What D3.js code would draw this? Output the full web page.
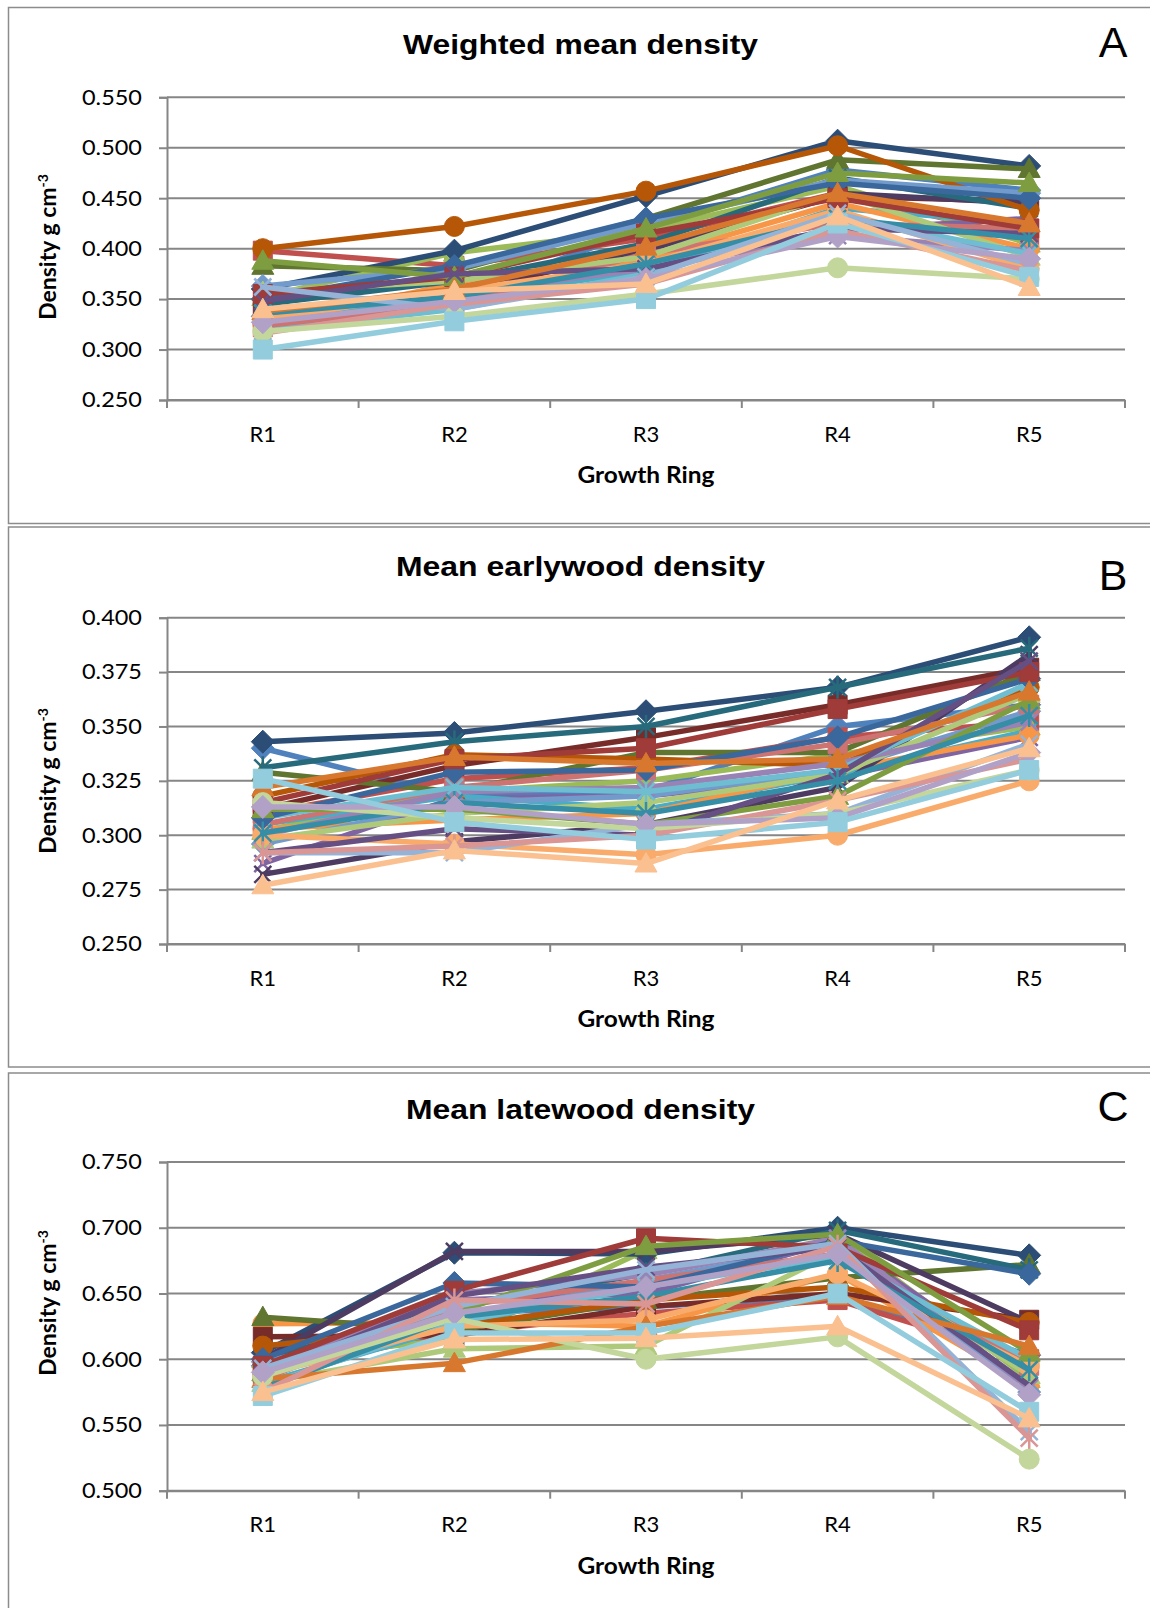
<!DOCTYPE html>
<html><head><meta charset="utf-8">
<script src="https://cdn.jsdelivr.net/npm/d3@7"></script>
<style>body{margin:0;background:#fff;overflow:hidden} svg{display:block}</style>
</head><body><svg id="c" width="1150" height="1608"></svg>
<script>
// ---------- DATA ----------
const rings = ["R1", "R2", "R3", "R4", "R5"];

const seriesColors = [
  "#4F81BD", "#C0504D", "#9BBB59", "#8064A2", "#4BACC6", "#F79646",
  "#2C4D75", "#772C2A", "#5F7530", "#4D3B62", "#276A7C", "#B65708",
  "#729ACA", "#CD7371", "#AFC97A", "#9983B5", "#6FBDD1", "#F9AB6B",
  "#3A679C", "#9F3B38", "#7E9D40", "#664F83", "#358EA6", "#D8782E",
  "#95B3D7", "#D99694", "#C3D69B", "#B2A1C7", "#93CDDD", "#FAC090"
];
const seriesMarkers = [
  "diamond", "square", "triangle", "x", "star", "circle",
  "diamond", "square", "triangle", "x", "star", "circle",
  "diamond", "square", "triangle", "x", "star", "circle",
  "diamond", "square", "triangle", "x", "star", "triangle",
  "x", "star", "circle", "diamond", "square", "triangle"
];

// Panel A – weighted mean density (g cm-3), one row per tree, R1..R5
const weightedMean = [
  [0.333, 0.352, 0.420, 0.478, 0.458],
  [0.398, 0.383, 0.410, 0.455, 0.410],
  [0.352, 0.396, 0.418, 0.462, 0.405],
  [0.345, 0.372, 0.388, 0.418, 0.430],
  [0.328, 0.350, 0.378, 0.440, 0.425],
  [0.325, 0.365, 0.390, 0.445, 0.400],
  [0.360, 0.398, 0.452, 0.507, 0.482],
  [0.340, 0.355, 0.400, 0.452, 0.447],
  [0.383, 0.378, 0.430, 0.488, 0.479],
  [0.330, 0.360, 0.398, 0.455, 0.445],
  [0.345, 0.368, 0.405, 0.470, 0.440],
  [0.400, 0.422, 0.457, 0.502, 0.438],
  [0.363, 0.380, 0.425, 0.468, 0.455],
  [0.322, 0.345, 0.395, 0.425, 0.420],
  [0.357, 0.368, 0.392, 0.455, 0.392],
  [0.336, 0.355, 0.380, 0.413, 0.398],
  [0.318, 0.340, 0.375, 0.432, 0.395],
  [0.330, 0.358, 0.385, 0.438, 0.380],
  [0.350, 0.383, 0.430, 0.465, 0.450],
  [0.355, 0.372, 0.415, 0.450, 0.420],
  [0.388, 0.372, 0.420, 0.475, 0.465],
  [0.348, 0.375, 0.380, 0.420, 0.415],
  [0.336, 0.352, 0.385, 0.430, 0.410],
  [0.338, 0.360, 0.402, 0.455, 0.425],
  [0.362, 0.340, 0.372, 0.435, 0.385],
  [0.316, 0.345, 0.365, 0.418, 0.378],
  [0.318, 0.333, 0.355, 0.381, 0.370],
  [0.327, 0.348, 0.370, 0.412, 0.390],
  [0.300, 0.328, 0.350, 0.425, 0.372],
  [0.340, 0.358, 0.365, 0.432, 0.362]
];

// Panel B – mean earlywood density
const earlywood = [
  [0.340, 0.318, 0.320, 0.350, 0.360],
  [0.310, 0.326, 0.331, 0.345, 0.352],
  [0.302, 0.320, 0.325, 0.337, 0.350],
  [0.287, 0.317, 0.318, 0.327, 0.345],
  [0.305, 0.318, 0.312, 0.328, 0.348],
  [0.303, 0.307, 0.310, 0.330, 0.346],
  [0.343, 0.347, 0.357, 0.368, 0.391],
  [0.312, 0.332, 0.345, 0.360, 0.377],
  [0.329, 0.320, 0.338, 0.338, 0.375],
  [0.282, 0.297, 0.305, 0.322, 0.383],
  [0.331, 0.343, 0.350, 0.368, 0.386],
  [0.318, 0.337, 0.335, 0.332, 0.368],
  [0.296, 0.315, 0.318, 0.330, 0.357],
  [0.305, 0.322, 0.330, 0.342, 0.360],
  [0.298, 0.310, 0.315, 0.328, 0.365],
  [0.300, 0.320, 0.322, 0.333, 0.352],
  [0.308, 0.322, 0.320, 0.330, 0.370],
  [0.300, 0.296, 0.291, 0.300, 0.325],
  [0.308, 0.329, 0.330, 0.345, 0.372],
  [0.315, 0.335, 0.340, 0.358, 0.375],
  [0.312, 0.312, 0.305, 0.318, 0.362],
  [0.292, 0.303, 0.300, 0.328, 0.380],
  [0.301, 0.315, 0.310, 0.325, 0.355],
  [0.322, 0.336, 0.333, 0.335, 0.366],
  [0.292, 0.292, 0.305, 0.310, 0.342],
  [0.292, 0.295, 0.300, 0.316, 0.335],
  [0.315, 0.308, 0.303, 0.310, 0.330],
  [0.313, 0.313, 0.305, 0.308, 0.338],
  [0.326, 0.306, 0.298, 0.306, 0.330],
  [0.277, 0.293, 0.287, 0.316, 0.340]
];

// Panel C – mean latewood density
const latewood = [
  [0.595, 0.635, 0.640, 0.648, 0.603],
  [0.590, 0.620, 0.635, 0.645, 0.600],
  [0.600, 0.615, 0.683, 0.694, 0.585],
  [0.590, 0.645, 0.650, 0.690, 0.590],
  [0.582, 0.625, 0.660, 0.680, 0.590],
  [0.627, 0.628, 0.625, 0.665, 0.580],
  [0.605, 0.681, 0.680, 0.700, 0.679],
  [0.617, 0.618, 0.640, 0.650, 0.630],
  [0.632, 0.622, 0.645, 0.662, 0.672],
  [0.600, 0.682, 0.682, 0.695, 0.628],
  [0.600, 0.640, 0.665, 0.698, 0.668],
  [0.610, 0.625, 0.645, 0.655, 0.628],
  [0.598, 0.630, 0.660, 0.688, 0.575],
  [0.585, 0.640, 0.660, 0.680, 0.595],
  [0.582, 0.608, 0.610, 0.682, 0.588],
  [0.592, 0.650, 0.664, 0.692, 0.578],
  [0.580, 0.628, 0.655, 0.678, 0.600],
  [0.588, 0.625, 0.630, 0.665, 0.595],
  [0.600, 0.658, 0.655, 0.690, 0.665],
  [0.595, 0.652, 0.692, 0.685, 0.622],
  [0.590, 0.635, 0.686, 0.695, 0.605],
  [0.588, 0.648, 0.670, 0.685, 0.580],
  [0.578, 0.632, 0.648, 0.675, 0.592],
  [0.585, 0.597, 0.625, 0.648, 0.610],
  [0.593, 0.640, 0.668, 0.688, 0.545],
  [0.575, 0.645, 0.642, 0.686, 0.540],
  [0.587, 0.631, 0.600, 0.617, 0.524],
  [0.590, 0.635, 0.655, 0.680, 0.573],
  [0.572, 0.620, 0.620, 0.650, 0.560],
  [0.575, 0.615, 0.616, 0.625, 0.555]
];

const ticksA = [0.250, 0.300, 0.350, 0.400, 0.450, 0.500, 0.550];
const ticksB = [0.250, 0.275, 0.300, 0.325, 0.350, 0.375, 0.400];
const ticksC = [0.500, 0.550, 0.600, 0.650, 0.700, 0.750];

const titles = ["Weighted mean density", "Mean earlywood density", "Mean latewood density"];
const panelLetters = ["A", "B", "C"];
const xTitle = "Growth Ring";

// ---------- LAYOUT ----------
const layouts = [
  {top: 7.5, bottom: 523.5, plotTop: 97.3, plotBottom: 400, titleY: 54.3, titleW: 355, letterY: 56.7, yTitleC: 247},
  {top: 527, bottom: 1067, plotTop: 617.7, plotBottom: 944, titleY: 575.6, titleW: 369, letterY: 589.7, yTitleC: 781},
  {top: 1073, bottom: 1620, plotTop: 1162, plotBottom: 1490.7, titleY: 1119.4, titleW: 349, letterY: 1121, yTitleC: 1303}
];
const panels = [
  {data: weightedMean, ticks: ticksA},
  {data: earlywood, ticks: ticksB},
  {data: latewood, ticks: ticksC}
];

const svg = d3.select("#c");
const plotL = 167, plotR = 1125;
const gridColor = "#868686";
const fmt = d3.format(".3f");

function markerPath(type) {
  switch (type) {
    case "diamond": return "M0,-11.5L11.5,0L0,11.5L-11.5,0Z";
    case "square": return "M-9.5,-9.5H9.5V9.5H-9.5Z";
    case "triangle": return "M0,-11L11,8.5L-11,8.5Z";
    case "circle": return "M10,0A10,10 0 1,1 -10,0A10,10 0 1,1 10,0Z";
    case "x": return "M-8.5,-8.5L8.5,8.5M-8.5,8.5L8.5,-8.5";
    case "star": return "M-8.5,-8.5L8.5,8.5M-8.5,8.5L8.5,-8.5M0,-11.5L0,11.5";
  }
}

panels.forEach((p, k) => {
  const L = layouts[k];
  const g = svg.append("g");

  // panel border
  g.append("rect")
    .attr("x", 8.5).attr("y", L.top)
    .attr("width", 1160).attr("height", L.bottom - L.top)
    .attr("fill", "none").attr("stroke", "#8c8c8c").attr("stroke-width", 1.5);

  const x = d3.scaleBand().domain(rings).range([plotL, plotR]);
  const y = d3.scaleLinear().domain(d3.extent(p.ticks)).range([L.plotBottom, L.plotTop]);

  // gridlines
  g.append("g").selectAll("line").data(p.ticks).join("line")
    .attr("x1", plotL).attr("x2", plotR)
    .attr("y1", d => y(d)).attr("y2", d => y(d))
    .attr("stroke", gridColor).attr("stroke-width", 2);

  // y axis
  const ya = g.append("g").attr("transform", `translate(${plotL},0)`)
    .call(d3.axisLeft(y).tickValues(p.ticks).tickFormat(fmt).tickSize(8).tickPadding(17));
  ya.select(".domain").attr("stroke", gridColor).attr("stroke-width", 2);
  ya.selectAll(".tick line").attr("stroke", gridColor).attr("stroke-width", 2);
  ya.selectAll(".tick text")
    .attr("font-family", "Lato, 'Open Sans', sans-serif").attr("font-size", 21.5)
    .attr("fill", "#000").attr("textLength", 60).attr("lengthAdjust", "spacingAndGlyphs");

  // x axis: baseline + ticks between categories
  const xa = g.append("g").attr("transform", `translate(0,${L.plotBottom})`)
    .call(d3.axisBottom(x).tickSize(0).tickPadding(26));
  xa.select(".domain").attr("stroke", gridColor).attr("stroke-width", 2);
  xa.selectAll(".tick text")
    .attr("font-family", "Lato, 'Open Sans', sans-serif").attr("font-size", 22).attr("fill", "#000");
  const bounds = d3.range(rings.length + 1).map(i => plotL + i * x.step());
  g.append("g").selectAll("line").data(bounds).join("line")
    .attr("x1", d => d).attr("x2", d => d)
    .attr("y1", L.plotBottom).attr("y2", L.plotBottom + 8)
    .attr("stroke", gridColor).attr("stroke-width", 2);

  // series
  const line = d3.line().x((d, i) => x(rings[i]) + x.bandwidth() / 2).y(d => y(d));
  p.data.forEach((vals, s) => {
    const col = seriesColors[s];
    const mk = seriesMarkers[s];
    const sg = g.append("g");
    sg.append("path").attr("d", line(vals))
      .attr("fill", "none").attr("stroke", col).attr("stroke-width", 5.5)
      .attr("stroke-linejoin", "round").attr("stroke-linecap", "round");
    sg.selectAll("path.m").data(vals).join("path").attr("class", "m")
      .attr("d", markerPath(mk))
      .attr("transform", (d, i) => `translate(${x(rings[i]) + x.bandwidth() / 2},${y(d)})`)
      .attr("fill", (mk === "x" || mk === "star") ? "none" : col)
      .attr("stroke", col)
      .attr("stroke-width", (mk === "x" || mk === "star") ? 2.5 : 1);
  });

  // chart title
  g.append("text").attr("x", 580.5).attr("y", L.titleY)
    .attr("text-anchor", "middle")
    .attr("font-family", "'Liberation Sans', Arial, sans-serif").attr("font-weight", "bold")
    .attr("font-size", 27.5).attr("textLength", L.titleW).attr("lengthAdjust", "spacingAndGlyphs")
    .text(titles[k]);

  // panel letter
  g.append("text").attr("x", 1113).attr("y", L.letterY)
    .attr("text-anchor", "middle")
    .attr("font-family", "'Liberation Sans', Arial, sans-serif")
    .attr("font-size", 43).text(panelLetters[k]);

  // x axis title
  g.append("text").attr("x", 646).attr("y", L.plotBottom + 83)
    .attr("text-anchor", "middle")
    .attr("font-family", "Lato, 'Open Sans', sans-serif").attr("font-weight", "bold")
    .attr("font-size", 23).attr("textLength", 137).attr("lengthAdjust", "spacingAndGlyphs")
    .text(xTitle);

  // y axis title
  const yt = g.append("text")
    .attr("transform", `translate(56,${L.yTitleC}) rotate(-90)`)
    .attr("text-anchor", "middle")
    .attr("font-family", "Lato, 'Open Sans', sans-serif").attr("font-weight", "bold")
    .attr("font-size", 23);
  yt.append("tspan").text("Density g cm");
  yt.append("tspan").attr("dy", -8).attr("font-size", 14).text("-3");
});
</script>
</body></html>
